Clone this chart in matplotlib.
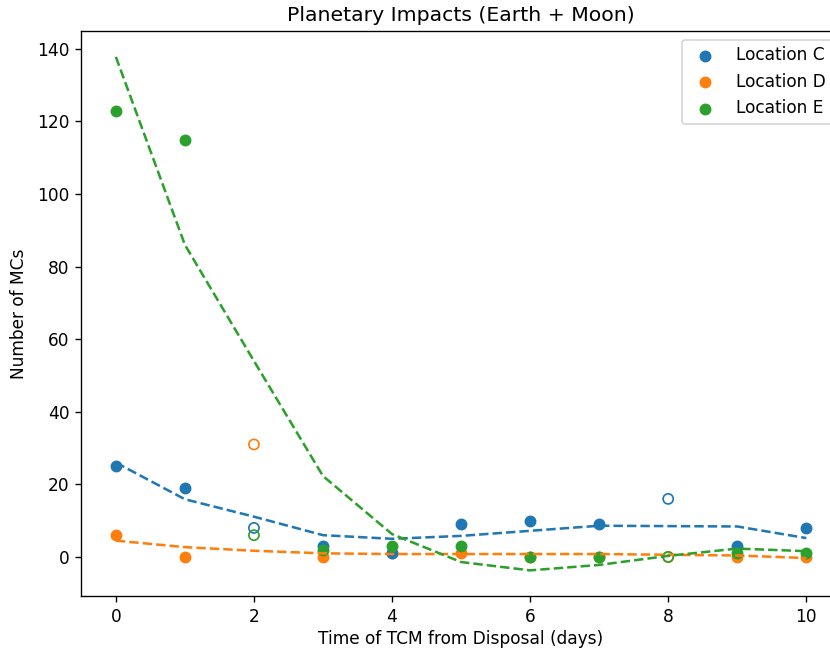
import matplotlib.pyplot as plt
import numpy as np

# TCM time after disposal (days)
days = np.arange(11)

# impacts per location (MC count)
loc_c = np.array([25, 19, 8, 3, 1, 9, 10, 9, 16, 3, 8])
loc_d = np.array([6, 0, 31, 0, 1, 1, 0, 0, 0, 0, 0])
loc_e = np.array([123, 115, 6, 2, 3, 3, 0, 0, 0, 1, 1])

# runs left out of the fit, drawn hollow
excluded = [2, 8]

# fitted trends
fit_c = [26.0, 15.9, 11.1, 6.0, 5.0, 5.8, 7.2, 8.6, 8.5, 8.4, 5.2]
fit_d = [4.5, 2.7, 1.7, 1.0, 0.8, 0.8, 0.8, 0.8, 0.6, 0.4, -0.3]
fit_e = [137.8, 86.0, 54.0, 22.3, 6.3, -1.4, -3.7, -2.2, 0.3, 2.3, 1.6]

names = ["Location C", "Location D", "Location E"]
colors = ["tab:blue", "tab:orange", "tab:green"]
layers = [1.1, 1.0, 1.2]  # D points sit under C and E

dpi = 122
fig = plt.figure(figsize=(830 / dpi, 650 / dpi), dpi=dpi)
ax = fig.add_axes([0.098, 0.083, 0.915, 0.869])

out = np.isin(days, excluded)
for name, vals, fit, c, z in zip(names, [loc_c, loc_d, loc_e], [fit_c, fit_d, fit_e], colors, layers):
    ax.scatter(days[~out], vals[~out], color=c, label=name, zorder=z)
    ax.scatter(days[out], vals[out], facecolors="none", edgecolors=c, zorder=z)
    ax.plot(days, fit, "--", color=c)

ax.set_title("Planetary Impacts (Earth + Moon)")
ax.set_xlabel("Time of TCM from Disposal (days)", labelpad=2.2)
ax.set_ylabel("Number of MCs", labelpad=5.2)
ax.legend(loc="upper right")

fig.savefig("out.png", dpi=dpi)
